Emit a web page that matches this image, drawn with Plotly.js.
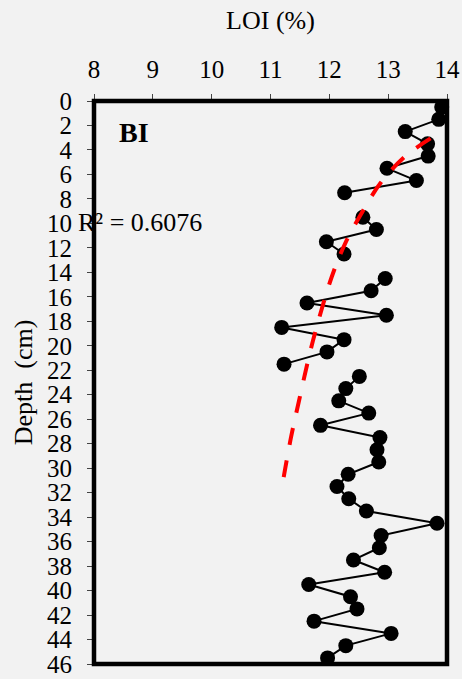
<!DOCTYPE html>
<html>
<head>
<meta charset="utf-8">
<script src="https://cdn.plot.ly/plotly-3.0.1.min.js"></script>
<style>
  html, body { margin: 0; padding: 0; background: #f2f2f2; }
  #chart { width: 462px; height: 679px; }
</style>
</head>
<body>
<div id="chart"></div>
<script>
// Sample depths (cm) and LOI (%); null = no sample / line break
const depth = [0.5, 1.5, 2.5, 3.5, 4.5, 5.5, 6.5, 7.5, 8.5, 9.5,
               10.5, 11.5, 12.5, 13.5, 14.5, 15.5, 16.5, 17.5, 18.5, 19.5,
               20.5, 21.5, 22.0, 22.5, 23.5, 24.5, 25.5, 26.5, 27.5, 28.5,
               29.5, 30.5, 31.5, 32.5, 33.5, 34.5, 35.5, 36.5, 37.5, 38.5,
               39.5, 40.5, 41.5, 42.5, 43.5, 44.5, 45.5];
const loi = [13.91, 13.86, 13.29, 13.67, 13.68, 12.98, 13.48, 12.26, null, 12.57,
             12.80, 11.95, 12.25, null, 12.95, 12.71, 11.62, 12.97, 11.19, 12.25,
             11.96, 11.23, null, 12.51, 12.28, 12.16, 12.67, 11.85, 12.86, 12.81,
             12.84, 12.32, 12.13, 12.33, 12.63, 13.83, 12.88, 12.85, 12.41, 12.94,
             11.65, 12.36, 12.47, 11.74, 13.05, 12.28, 11.97];

// Trend line
const trendLoi   = [13.72, 13.29, 12.87, 12.56, 12.27, 12.04, 11.76, 11.62, 11.48, 11.35, 11.19];
const trendDepth = [3.05, 4.52, 6.70, 9.07, 11.63, 14.38, 18.90, 21.59, 24.59, 27.45, 31.67];

const xTicks = [8, 9, 10, 11, 12, 13, 14];
const yTicks = [0, 2, 4, 6, 8, 10, 12, 14, 16, 18, 20, 22, 24, 26, 28, 30, 32, 34, 36, 38, 40, 42, 44, 46];

const siteLabel = 'BI';
const r2Label = 'R² = 0.6076';

const FONT = '"Liberation Serif", "Times New Roman", serif';

const traces = [
  {
    x: loi, y: depth, type: 'scatter', mode: 'lines+markers',
    connectgaps: false, cliponaxis: false,
    line: { color: '#000000', width: 2 },
    marker: { color: '#000000', size: 15 },
    showlegend: false, hoverinfo: 'x+y'
  },
  {
    x: trendLoi, y: trendDepth, type: 'scatter', mode: 'lines',
    cliponaxis: false,
    line: { color: '#ff0000', width: 4, dash: '17px,16px', shape: 'spline' },
    showlegend: false, hoverinfo: 'skip'
  }
];

const layout = {
  width: 462, height: 679,
  paper_bgcolor: '#f2f2f2', plot_bgcolor: '#f2f2f2',
  margin: { l: 94, r: 15, t: 101, b: 15 },
  font: { family: FONT, size: 25, color: '#000000' },
  showlegend: false,
  xaxis: {
    side: 'top', range: [8, 14],
    tickvals: xTicks, ticktext: xTicks.map(String),
    ticks: 'outside', ticklen: 6, tickwidth: 1, tickcolor: '#444',
    showgrid: false, zeroline: false, showline: false,
    ticklabelstandoff: 6,
    tickfont: { family: FONT, size: 25 },
    title: { text: 'LOI (%)', font: { family: FONT, size: 26 }, standoff: 18 }
  },
  yaxis: {
    range: [46, 0],
    tickvals: yTicks, ticktext: yTicks.map(String),
    ticks: 'outside', ticklen: 6, tickwidth: 1, tickcolor: '#444',
    showgrid: false, zeroline: false, showline: false,
    ticklabelstandoff: 10,
    tickfont: { family: FONT, size: 25 },
    title: { text: 'Depth  (cm)', font: { family: FONT, size: 26 }, standoff: 6 }
  },
  shapes: [
    { type: 'rect', xref: 'paper', yref: 'paper', x0: 0, x1: 1, y0: 0, y1: 1,
      line: { color: '#000000', width: 4.5 }, fillcolor: 'rgba(0,0,0,0)', layer: 'above' }
  ],
  annotations: [
    { text: '<b>' + siteLabel + '</b>', xref: 'x', yref: 'y', x: 8.39, y: 2.55,
      xanchor: 'left', yanchor: 'middle', showarrow: false,
      font: { family: FONT, size: 28, color: '#000000' } },
    { text: r2Label, xref: 'paper', yref: 'y', x: -0.05, y: 9.9,
      xanchor: 'left', yanchor: 'middle', showarrow: false,
      font: { family: FONT, size: 26, color: '#000000' } }
  ]
};

Plotly.newPlot('chart', traces, layout, { displayModeBar: false, staticPlot: true });
</script>
</body>
</html>
